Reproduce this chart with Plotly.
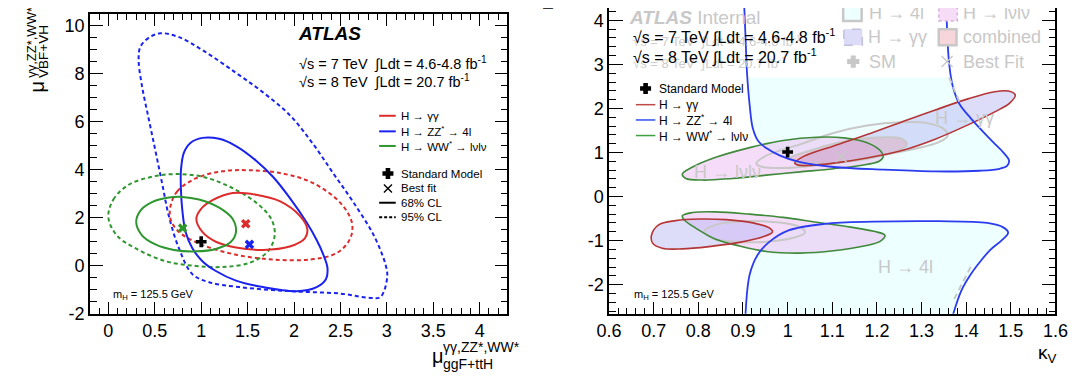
import plotly.graph_objects as go

W, H = 1079, 379
FONT = "Liberation Sans, Arial, Helvetica, sans-serif"

# ===================== LEFT PANEL : mu_VBF+VH vs mu_ggF+ttH =====================
gg68_x = [0.948, 0.995, 1.122, 1.339, 1.592, 1.846, 2.063, 2.143, 2.117, 1.954, 1.665, 1.375, 1.158, 1.013]
gg68_y = [1.95, 2.35, 2.73, 3.03, 2.96, 2.69, 2.08, 1.54, 1.14, 0.80, 0.66, 0.76, 1.00, 1.41]
gg95_x = [0.670, 0.742, 0.941, 1.231, 1.520, 1.882, 2.208, 2.497, 2.623, 2.606, 2.461, 2.172, 1.773, 1.375, 1.013, 0.760, 0.670]
gg95_y = [2.49, 3.10, 3.64, 3.94, 3.98, 3.84, 3.44, 2.63, 1.81, 1.14, 0.53, 0.26, 0.26, 0.46, 0.87, 1.41, 1.95]
ww68_x = [0.300, 0.344, 0.470, 0.651, 0.796, 0.977, 1.194, 1.339, 1.375, 1.321, 1.158, 0.941, 0.706, 0.507, 0.362]
ww68_y = [1.81, 2.29, 2.65, 2.84, 2.87, 2.76, 2.42, 1.95, 1.41, 1.00, 0.70, 0.60, 0.66, 0.89, 1.27]
ww95_x = [0.0, 0.054, 0.217, 0.470, 0.724, 1.013, 1.303, 1.592, 1.755, 1.792, 1.719, 1.520, 1.231, 0.941, 0.615, 0.290, 0.090]
ww95_y = [2.02, 2.76, 3.37, 3.71, 3.82, 3.71, 3.30, 2.63, 1.95, 1.27, 0.60, 0.12, -0.05, -0.01, 0.19, 0.73, 1.27]
zz68_x = [1.013, 0.887, 0.814, 0.782, 0.782, 0.796, 0.832, 0.905, 1.013, 1.158, 1.375, 1.665, 2.027,
          2.244, 2.345, 2.360, 2.316, 2.244, 2.135, 1.954, 1.773, 1.592, 1.375, 1.194]
zz68_y = [5.33, 5.13, 4.72, 3.98, 3.17, 2.35, 1.41, 0.73, 0.19, -0.22, -0.62, -0.89, -1.06,
          -0.89, -0.55, -0.08, 0.46, 1.07, 1.81, 2.83, 3.71, 4.38, 4.99, 5.29]
zz95_x = [0.561, 0.434, 0.344, 0.326, 0.362, 0.434, 0.507, 0.579, 0.651, 0.760, 0.905, 1.086, 1.411, 1.954,
          2.497, 2.823, 2.932, 3.004, 2.986, 2.859, 2.642, 2.425, 2.208, 1.954, 1.665, 1.375, 1.013, 0.760]
zz95_y = [9.69, 9.50, 9.12, 8.58, 7.50, 6.14, 4.79, 3.44, 2.08, 0.73, -0.35, -0.69, -0.89, -1.06,
          -1.16, -1.34, -1.30, -0.49, 0.05, 1.27, 2.63, 3.84, 5.06, 6.28, 7.23, 8.04, 8.99, 9.53]
bestfit_x = [1.48, 1.52, 0.80]       # gamma-gamma, ZZ, WW
bestfit_y = [1.75, 0.89, 1.57]
sm_x = [1.0]
sm_y = [1.0]

left_xticks = [0, 0.5, 1, 1.5, 2, 2.5, 3, 3.5, 4]
left_xlabels = ["0", "0.5", "1", "1.5", "2", "2.5", "3", "3.5", "4"]
left_yticks = [-2, 0, 2, 4, 6, 8, 10]
left_ylabels = ["-2", "0", "2", "4", "6", "8", "10"]

# ===================== RIGHT PANEL : kappa_F vs kappa_V =====================
zzu_x = [0.902, 0.906, 0.909, 0.915, 0.922, 0.934, 0.952, 0.983, 1.028, 1.103, 1.216, 1.33, 1.43, 1.475,
         1.492, 1.496, 1.485, 1.462, 1.437, 1.41, 1.385, 1.370, 1.362, 1.358, 1.355]
zzu_y = [4.50, 3.54, 2.81, 2.07, 1.55, 1.26, 1.10, 0.93, 0.78, 0.67, 0.61, 0.57, 0.585, 0.63,
         0.70, 0.82, 0.98, 1.22, 1.48, 1.78, 2.10, 2.50, 3.00, 3.60, 4.50]
cyan_up_x = [0.909, 0.915, 0.922, 0.934, 0.952, 0.983, 1.028, 1.103, 1.216, 1.33, 1.43, 1.475,
             1.492, 1.496, 1.485, 1.462, 1.437, 1.41, 1.385, 1.372, 0.909]
cyan_up_y = [2.70, 2.07, 1.55, 1.26, 1.10, 0.93, 0.78, 0.67, 0.61, 0.57, 0.585, 0.63,
             0.70, 0.82, 0.98, 1.22, 1.48, 1.78, 2.10, 2.70, 2.70]
zzl_x = [0.905, 0.915, 0.933, 0.959, 1.002, 1.083, 1.192, 1.338, 1.447, 1.483, 1.494, 1.480, 1.454,
         1.432, 1.410, 1.389, 1.367]
zzl_y = [-2.80, -1.77, -1.32, -1.03, -0.77, -0.62, -0.57, -0.56, -0.60, -0.70, -0.82, -0.99, -1.21,
         -1.47, -1.77, -2.14, -2.80]
ggu_x = [1.016, 1.035, 1.103, 1.178, 1.254, 1.329, 1.404, 1.464, 1.495, 1.510, 1.498, 1.464, 1.404,
         1.329, 1.254, 1.178, 1.103, 1.050, 1.024]
ggu_y = [0.758, 0.905, 1.148, 1.406, 1.686, 1.959, 2.217, 2.379, 2.394, 2.305, 2.128, 1.922, 1.627,
         1.296, 1.038, 0.875, 0.758, 0.706, 0.713]
ggl_x = [0.695, 0.711, 0.749, 0.802, 0.862, 0.922, 0.960, 0.966, 0.945, 0.892, 0.824, 0.764, 0.719, 0.698]
ggl_y = [-0.878, -0.643, -0.547, -0.510, -0.525, -0.598, -0.716, -0.805, -0.915, -1.041, -1.136,
         -1.188, -1.173, -1.063]
wwu_x = [0.764, 0.787, 0.839, 0.915, 0.990, 1.065, 1.126, 1.178, 1.208, 1.214, 1.205, 1.163, 1.103,
         1.028, 0.952, 0.877, 0.809, 0.772]
wwu_y = [0.507, 0.669, 0.890, 1.111, 1.273, 1.347, 1.332, 1.222, 1.038, 0.905, 0.802, 0.706, 0.632,
         0.559, 0.485, 0.411, 0.374, 0.411]
wwl_x = [0.764, 0.787, 0.839, 0.915, 0.990, 1.065, 1.141, 1.193, 1.218, 1.208, 1.171, 1.103, 1.028,
         0.952, 0.892, 0.839, 0.794, 0.768]
wwl_y = [-0.436, -0.363, -0.348, -0.400, -0.473, -0.584, -0.694, -0.790, -0.878, -1.011, -1.122,
         -1.232, -1.284, -1.247, -1.122, -0.967, -0.716, -0.525]
comb95_x = [0.930, 0.952, 1.028, 1.103, 1.178, 1.254, 1.314, 1.352, 1.358, 1.336, 1.291, 1.216, 1.141,
            1.065, 0.990, 0.945]
comb95_y = [0.743, 0.927, 1.185, 1.443, 1.612, 1.686, 1.664, 1.517, 1.369, 1.222, 1.097, 0.949, 0.816,
            0.706, 0.647, 0.669]
comb68_x = [1.007, 1.050, 1.103, 1.163, 1.216, 1.254, 1.267, 1.246, 1.201, 1.141, 1.080, 1.028]
comb68_y = [0.875, 1.038, 1.200, 1.310, 1.347, 1.318, 1.185, 1.038, 0.905, 0.802, 0.743, 0.758]
combl_x = [0.813, 0.839, 0.900, 0.975, 1.028, 1.039, 1.013, 0.952, 0.885, 0.832]
combl_y = [-0.790, -0.643, -0.562, -0.584, -0.694, -0.819, -0.937, -1.026, -1.026, -0.952]
gray4l_a_x = [1.362, 1.385]
gray4l_a_y = [2.70, 2.15]
gray4l_b_x = [1.410, 1.372]
gray4l_b_y = [-1.60, -2.35]
r_sm_x = [1.0]
r_sm_y = [1.01]
r_best_x = [1.12]
r_best_y = [0.905]

right_xticks = [0.6, 0.7, 0.8, 0.9, 1.0, 1.1, 1.2, 1.3, 1.4, 1.5, 1.6]
right_xlabels = ["0.6", "0.7", "0.8", "0.9", "1", "1.1", "1.2", "1.3", "1.4", "1.5", "1.6"]
right_yticks = [-2, -1, 0, 1, 2, 3, 4]
right_ylabels = ["-2", "-1", "0", "1", "2", "3", "4"]

# ----------------------------------------------------------------------------
def closed(xs, ys):
    return list(xs) + [xs[0]], list(ys) + [ys[0]]

fig = go.Figure()

RED, BLUE, GREEN = "#dc2c2c", "#1a22ee", "#2e962e"

def curve(xs, ys, color, dash="solid", ax=("x", "y"), width=2.0, close=True):
    if close:
        xs, ys = closed(xs, ys)
    fig.add_trace(go.Scatter(x=xs, y=ys, mode="lines", xaxis=ax[0], yaxis=ax[1],
                             line=dict(color=color, width=width, dash=dash, shape="spline", smoothing=1.0),
                             hoverinfo="skip", showlegend=False))

def fill(xs, ys, color, ax=("x2", "y2"), shape="spline"):
    xs, ys = closed(xs, ys)
    fig.add_trace(go.Scatter(x=xs, y=ys, mode="lines", xaxis=ax[0], yaxis=ax[1], fill="toself",
                             fillcolor=color, line=dict(width=0, shape=shape, smoothing=1.0),
                             hoverinfo="skip", showlegend=False))

DASH = "4px,3px"
# left panel contours
curve(zz95_x, zz95_y, BLUE, DASH)
curve(gg95_x, gg95_y, RED, DASH)
curve(ww95_x, ww95_y, GREEN, DASH)
curve(zz68_x, zz68_y, BLUE)
curve(gg68_x, gg68_y, RED)
curve(ww68_x, ww68_y, GREEN)
for bx, by, bc in zip(bestfit_x, bestfit_y, [RED, BLUE, GREEN]):
    fig.add_trace(go.Scatter(x=[bx], y=[by], mode="markers", xaxis="x", yaxis="y",
                             marker=dict(symbol="x", size=8.5, color=bc),
                             hoverinfo="skip", showlegend=False))
fig.add_trace(go.Scatter(x=sm_x, y=sm_y, mode="markers", xaxis="x", yaxis="y",
                         marker=dict(symbol="cross", size=9, color="black"),
                         hoverinfo="skip", showlegend=False))

# right panel fills
AX2 = ("x2", "y2")
fill(cyan_up_x, cyan_up_y, "#edfffe", shape="linear")
fill(zzl_x + [1.367, 0.905], zzl_y + [-2.80, -2.80], "#edfffe", shape="linear")
fill(wwu_x, wwu_y, "rgba(232,178,240,0.45)")
fill(wwl_x, wwl_y, "rgba(232,178,240,0.45)")
fill(ggu_x, ggu_y, "rgba(180,180,245,0.45)")
fill(ggl_x, ggl_y, "rgba(180,180,245,0.45)")
fill(comb68_x, comb68_y, "rgba(230,150,165,0.35)")
GRAY = "#c8c8c8"
curve(comb95_x, comb95_y, GRAY, ax=AX2, width=2.0)
curve(comb68_x, comb68_y, GRAY, ax=AX2, width=2.0)
curve(combl_x, combl_y, GRAY, ax=AX2, width=2.0)
curve(wwu_x, wwu_y, "#3f8a3a", ax=AX2, width=1.6)
curve(wwl_x, wwl_y, "#3f8a3a", ax=AX2, width=1.6)
curve(ggu_x, ggu_y, "#b43535", ax=AX2, width=1.6)
curve(ggl_x, ggl_y, "#b43535", ax=AX2, width=1.6)
curve(zzu_x, zzu_y, "#2b3cf0", ax=AX2, width=1.8, close=False)
curve(zzl_x, zzl_y, "#2b3cf0", ax=AX2, width=1.8, close=False)
curve(gray4l_a_x, gray4l_a_y, GRAY, dash="6px,4px", ax=AX2, width=2, close=False)
curve(gray4l_b_x, gray4l_b_y, GRAY, dash="6px,4px", ax=AX2, width=2, close=False)
fig.add_trace(go.Scatter(x=r_best_x, y=r_best_y, mode="markers", xaxis="x2", yaxis="y2",
                         marker=dict(symbol="x-thin-open", size=11, color=GRAY, line=dict(width=1.3, color=GRAY)),
                         hoverinfo="skip", showlegend=False))
fig.add_trace(go.Scatter(x=r_sm_x, y=r_sm_y, mode="markers", xaxis="x2", yaxis="y2",
                         marker=dict(symbol="cross", size=9, color="black"),
                         hoverinfo="skip", showlegend=False))

# ----------------------------- pixel helpers -----------------------------
def PX(px):
    return px / W

def PY(py):
    return 1 - py / H

shapes = []
annotations = []

def text(px, py, s, size, color="black", xanchor="left", yanchor="middle", angle=0):
    annotations.append(dict(x=PX(px), y=PY(py), xref="paper", yref="paper", text=s, showarrow=False,
                            xanchor=xanchor, yanchor=yanchor, textangle=angle,
                            font=dict(size=size, color=color, family=FONT)))

def hline(x0, x1, py, color, width=2, dash="solid"):
    shapes.append(dict(type="line", xref="paper", yref="paper", x0=PX(x0), x1=PX(x1), y0=PY(py), y1=PY(py),
                       line=dict(color=color, width=width, dash=dash)))

def box(x0, x1, y0, y1, fillc, linec, width=2, dash="solid"):
    shapes.append(dict(type="rect", xref="paper", yref="paper", x0=PX(x0), x1=PX(x1), y0=PY(y1), y1=PY(y0),
                       fillcolor=fillc, line=dict(color=linec, width=width, dash=dash), layer="above"))

# legend glyph markers (pixel overlay axes)
def glyph(px, py, symbol, size, color):
    fig.add_trace(go.Scatter(x=[px], y=[py], mode="markers", xaxis="x3", yaxis="y3",
                             marker=dict(symbol=symbol, size=size, color=color, line=dict(width=1.4, color=color)),
                             hoverinfo="skip", showlegend=False))

glyph(376, 170, "cross", 8, "black")
glyph(376, 185.3, "x-thin-open", 8, "black")
glyph(640, 82.7, "cross", 8, "black")
glyph(852.8, 55, "cross", 9, GRAY)
glyph(949, 55, "x-thin-open", 11, GRAY)

# ---- left panel text ----
text(282, 26.7, "<b><i>ATLAS</i></b>", 19)
text(283, 56.7, "√s = 7 TeV  ∫Ldt = 4.6-4.8 fb<sup>-1</sup>", 14.5)
text(283, 75, "√s = 8 TeV  ∫Ldt = 20.7 fb<sup>-1</sup>", 14.5)
hline(367, 384, 110.7, RED)
hline(367, 384, 126.7, BLUE)
hline(367, 384, 141.7, GREEN)
hline(367, 384, 200, "black")
hline(367, 384, 215, "black", dash="3px,2px")
text(387.5, 110.7, "H → γγ", 11.5)
text(387.5, 126.7, "H → ZZ<sup>*</sup> → 4l", 11.5)
text(387.5, 141.7, "H → WW<sup>*</sup> → lνlν", 11.5)
text(387.5, 170, "Standard Model", 11.5)
text(387.5, 185.3, "Best fit", 11.5)
text(387.5, 200, "68% CL", 11.5)
text(387.5, 215, "95% CL", 11.5)
text(92, 294.3, "m<sub>H</sub> = 125.5 GeV", 11)
# axis titles (left)
text(419, 357, "μ", 20, xanchor="left")
text(430, 348, "γγ,ZZ*,WW*", 14)
text(430, 366, "ggF+ttH", 14)
text(16, 81, "μ", 20, xanchor="center", angle=-90)
text(10.5, 74, "γγ,ZZ*,WW*", 13, xanchor="center", yanchor="bottom", angle=-90)
text(23, 74, "VBF+VH", 13.5, xanchor="center", yanchor="bottom", angle=-90)

# ---- right panel text ----
text(621, 10, "<b><i>ATLAS</i></b> Internal", 19, color=GRAY)
text(625, 33.5, "√s = 7 TeV  ∫Ldt = 4.6-4.8 fb<sup>-1</sup>", 13, color="#cdcdcd")
text(625, 57, "√s = 8 TeV  ∫Ldt = 20.7 fb<sup>-1</sup>", 13, color="#cdcdcd")
text(625, 29, "√s = 7 TeV ∫Ldt = 4.6-4.8 fb<sup>-1</sup>", 16)
text(625, 50, "√s = 8 TeV ∫Ldt = 20.7 fb<sup>-1</sup>", 16)
text(651.5, 82.7, "Standard Model", 12)
text(651.5, 99.3, "H → γγ", 12)
text(651.5, 115, "H → ZZ<sup>*</sup> → 4l", 12)
text(651.5, 131, "H → WW<sup>*</sup> → lνlν", 12)
hline(630, 650, 99.3, "#c04848", width=1.5)
hline(630, 650, 115, "#3050f0", width=1.5)
hline(630, 650, 131, "#40a040", width=1.5)
box(842.5, 861.4, -8, 13.3, "#edfffe", GRAY, width=2.5)
box(940.4, 959.4, -8, 13.3, "#f7dcf8", "#d6b0dc", width=1.5, dash="dot")
box(843.2, 862.1, 21.7, 38.3, "#dcdcf8", "#c0c0dc", width=1.5, dash="dash")
box(940.4, 958.6, 21.7, 38.3, "#f6d6da", GRAY, width=2.5)
text(866.5, 5, "H → 4l", 18, color=GRAY)
text(962.8, 5, "H → lνlν", 18, color=GRAY)
text(866, 29.5, "H → γγ", 18, color=GRAY)
text(962.8, 29.5, "combined", 18, color=GRAY)
text(866.5, 55, "SM", 18, color=GRAY)
text(962.8, 55, "Best Fit", 18, color=GRAY)
text(935, 112.5, "H → γγ", 18, color=GRAY)
text(688, 168.5, "H → lνlν", 18, color=GRAY)
text(876, 266.5, "H → 4l", 18, color=GRAY)
text(626, 295, "m<sub>H</sub> = 125.5 GeV", 11)
text(1064, 355, "κ<sub>V</sub>", 19, xanchor="right")
text(540, 4, "κ<sub>F</sub>", 19, xanchor="center", yanchor="bottom", angle=-90)

# ----------------------------- axes -----------------------------
def axis_common(tick0, dtick_minor, major_len, minor_len, mirror):
    return dict(ticks="inside", ticklen=major_len, tickwidth=1, tickcolor="black",
                minor=dict(tickmode="linear", tick0=tick0, dtick=dtick_minor, ticks="inside",
                           ticklen=minor_len, tickwidth=1, tickcolor="black", showgrid=False),
                showline=True, linecolor="black", linewidth=1.5, mirror=mirror,
                showgrid=False, zeroline=False, tickfont=dict(size=18, color="black", family=FONT))

L_Y0, L_Y1 = 6, 314
R_Y1 = 314
fig.update_layout(
    width=W, height=H, autosize=False,
    margin=dict(l=0, r=0, t=0, b=0),
    paper_bgcolor="white", plot_bgcolor="rgba(0,0,0,0)",
    font=dict(family=FONT, color="black"),
    showlegend=False,
    xaxis=dict(domain=[PX(70.5), PX(498.5)], range=[-0.2, 4.3], anchor="y",
               tickmode="array", tickvals=left_xticks, ticktext=left_xlabels,
               **axis_common(0, 0.1, 12, 6, "ticks")),
    yaxis=dict(domain=[PY(L_Y1), PY(L_Y0)], range=[-2, 10.5], anchor="x",
               tickmode="array", tickvals=left_yticks, ticktext=left_ylabels,
               **axis_common(0, 0.5, 13, 7, "ticks")),
    xaxis2=dict(domain=[PX(602.6), PX(1060)], range=[0.6, 1.6], anchor="y2",
                tickmode="array", tickvals=right_xticks, ticktext=right_xlabels,
                **axis_common(0.6, 0.02, 12, 6, False)),
    yaxis2=dict(domain=[PY(R_Y1), 1.0], range=[-2.66, 4.28], anchor="x2",
                tickmode="array", tickvals=right_yticks, ticktext=right_ylabels,
                **axis_common(0, 0.2, 14, 7, "ticks")),
    xaxis3=dict(domain=[0, 1], range=[0, W], visible=False, anchor="y3", fixedrange=True),
    yaxis3=dict(domain=[0, 1], range=[H, 0], visible=False, anchor="x3", fixedrange=True),
    shapes=shapes,
    annotations=annotations,
)

fig.write_html("out.html")
